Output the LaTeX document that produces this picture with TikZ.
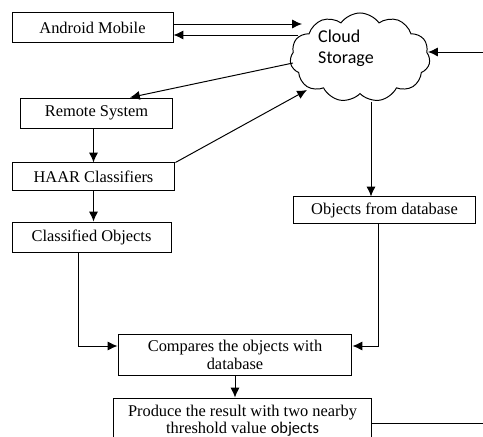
\documentclass[tikz,border=0pt]{standalone}
\usepackage{fontspec}
\setmainfont{Liberation Serif}
\newfontfamily\cloudfont{Carlito}
\usetikzlibrary{shapes.symbols, arrows.meta, calc}
\tikzset{
    box/.style = {draw, rectangle, inner sep = 0pt, align = center, font = \fontsize{10}{11}\selectfont},
    arr/.style = {-{Latex[length = 6pt, width = 5.5pt]}},
}
\begin{document}
\begin{tikzpicture}[x = 0.61pt, y = -0.61pt, line width = 0.6pt]
        \useasboundingbox (0, 0) rectangle (483, 437);
        \clip (0, 0) rectangle (483, 437);
        % left column
        \node[box, minimum width = 98.2pt, minimum height = 17.7pt] (android) at (92.5, 27.5) {Android Mobile};
        \node[box, minimum width = 93.3pt, minimum height = 18.3pt] (remote) at (96.5, 113) {Remote System};
        \node[box, minimum width = 99.4pt, minimum height = 16.5pt] (haar) at (93.5, 176.5) {HAAR Classifiers};
        \node[box, minimum width = 97pt, minimum height = 18.3pt] (classified) at (91.5, 237) {Classified Objects};
        % cloud and right column
        \node[cloud, draw, cloud puffs = 11, cloud puff arc = 110, inner sep = 0pt,
            minimum width = 85.4pt, minimum height = 54.3pt] (cloud) at (360, 57.5) {};
        \node[align = left, inner sep = 0pt, font = \cloudfont\fontsize{11}{13}\selectfont] (cloudtxt) at (346, 48) {Cloud\\Storage};
        \node[box, minimum width = 111.6pt, minimum height = 15.9pt] (objects) at (384.5, 210) {Objects from database};
        % bottom
        \node[box, minimum width = 142.7pt, minimum height = 25.6pt] (compares) at (235, 355) {Compares the objects with\\database};
        \node[box, minimum width = 156.8pt, minimum height = 28pt, font = \fontsize{10}{10.4}\selectfont] (produce) at (242.5, 421)
            {Produce the result with two nearby\\threshold value {\cloudfont objects}};
        \coordinate (rin) at (483, 52);
        \coordinate (pout) at (483, 423);

        \draw[arr] (android.east |- 0, 24) -- ($(cloud.center) + (-58, -33.5)$);
        \draw[arr] ($(cloud.center) + (-62, -22.5)$) -- (android.east |- 0, 35);
        \draw[arr] ($(cloud.center) + (-67, 5.5)$) -- ($(remote.north) + (33.5, 0)$);
        \draw[arr] (haar.north east) -- ($(cloud.center) + (-53, 32.5)$);
        \draw[arr] (rin) -- ($(cloud.center) + (68, -5.5)$);
        \draw[arr] ($(cloud.center) + (11, 44.5)$) coordinate (cdown) -- (cdown |- objects.north);
        \draw[arr] (haar.north |- remote.south) -- (haar.north);
        \draw[arr] (haar.south) -- (haar.south |- classified.north);
        \draw[arr] ($(classified.south) + (-13.5, 0)$) |- ($(compares.west) + (0, -9)$);
        \draw[arr] ($(objects.south) + (-6.5, 0)$) |- ($(compares.east) + (0, -9)$);
        \draw[arr] (compares.south) -- (compares.south |- produce.north);
        \draw (produce.east |- pout) -- (pout);
    \end{tikzpicture}
\end{document}
